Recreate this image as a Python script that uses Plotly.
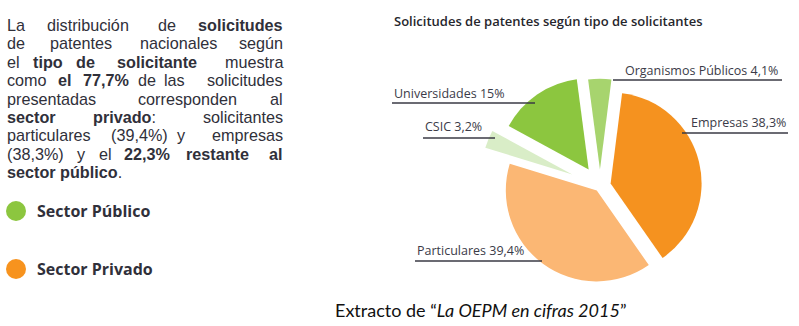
import plotly.graph_objects as go

W, H = 799, 326

# Patent applications by applicant type (%)
categories = ["Organismos Públicos", "Empresas", "Particulares", "CSIC", "Universidades"]
shares = [4.1, 38.3, 39.4, 3.2, 15.0]
public_group = ["Organismos Públicos", "CSIC", "Universidades"]
private_group = ["Empresas", "Particulares"]
sector_names = ["Sector Público", "Sector Privado"]

# styling
slice_colors = ["#A7D46E", "#F5921F", "#FBB774", "#D9EDC7", "#8CC63F"]
slice_pull = [0.18, 0.12, 0.06, 0.33, 0.22]
sector_colors = ["#8CC63F", "#F7931E"]
TEXT = "#30303a"
LABEL = "#3b3b48"


def es(v):
    s = f"{v:.1f}"
    if s.endswith(".0"):
        s = s[:-2]
    return s.replace(".", ",")


def px(x):
    return x / W


def py(y):
    return 1 - y / H


share_of = dict(zip(categories, shares))
private_total = sum(share_of[c] for c in private_group)
public_total = sum(share_of[c] for c in public_group)

fig = go.Figure()

# pie occupies a square box centred on (600, 186) px
cx, cy, half = 600, 186, 121
fig.add_trace(go.Pie(
    labels=categories,
    values=shares,
    sort=False,
    direction="clockwise",
    rotation=-7.5,
    pull=slice_pull,
    marker=dict(colors=slice_colors, line=dict(width=0)),
    textinfo="none",
    hoverinfo="label+percent",
    showlegend=False,
    domain=dict(x=[px(cx - half), px(cx + half)], y=[py(cy + half), py(cy - half)]),
))

annotations = []
shapes = []

# chart title
annotations.append(dict(
    x=px(392), y=py(21), xref="paper", yref="paper", xanchor="left", yanchor="middle",
    text="Solicitudes de patentes según tipo de solicitantes", showarrow=False,
    font=dict(family="Open Sans", size=13, color="#26262c", weight=600),
))

# slice labels with underline leaders: (text x, text y, anchor, line x0, line x1, line y)
label_place = {
    "Organismos Públicos": (780, 70, "right", 613, 782, 80),
    "Empresas": (788, 122, "right", 682, 788, 133),
    "Particulares": (415, 250, "left", 415, 542, 261),
    "CSIC": (423, 127, "left", 423, 495, 138),
    "Universidades": (392, 93, "left", 392, 535, 103),
}
for cat, val in zip(categories, shares):
    tx, ty, anc, lx0, lx1, ly = label_place[cat]
    annotations.append(dict(
        x=px(tx), y=py(ty), xref="paper", yref="paper", xanchor=anc, yanchor="middle",
        text=f"{cat} {es(val)}%", showarrow=False,
        font=dict(family="Open Sans", size=12.5, color=LABEL),
    ))
    shapes.append(dict(type="line", xref="paper", yref="paper",
                       x0=px(lx0), x1=px(lx1), y0=py(ly), y1=py(ly),
                       line=dict(color="#3a3a44", width=1.6)))

# justified paragraph: first word flush left, last word flush right,
# inner words centred on their slot
LEFT, RIGHT, TOP, LEAD = 7, 283, 25, 18.4
para = [
    [("La", None), ("distribución", 88), ("de", 167), ("<b>solicitudes</b>", None)],
    [("de", None), ("patentes", 81), ("nacionales", 178.5), ("según", None)],
    [("el", None), ("<b>tipo</b>", 48), ("<b>de</b>", 85), ("<b>solicitante</b>", 157), ("muestra", None)],
    [("como", None), ("<b>el</b>", 65), (f"<b>{es(private_total)}%</b>", 106), ("de", 146.5), ("las", 174),
     ("solicitudes", None)],
    [("presentadas", None), ("corresponden", 187.5), ("al", None)],
    [("<b>sector</b>", None), ("<b>privado</b>:", 124.5), ("solicitantes", None)],
    [("particulares", None), (f"({es(share_of['Particulares'])}%)", 139.5), ("y", 181), ("empresas", None)],
    [(f"({es(share_of['Empresas'])}%)", None), ("y", 81.5), ("el", 105), (f"<b>{es(public_total)}%</b>", 146.5),
     ("<b>restante</b>", 217), ("<b>al</b>", None)],
    [("<b>sector público</b>.", None)],
]
for i, words in enumerate(para):
    ly = TOP + i * LEAD
    n = len(words)
    for j, (word, wx) in enumerate(words):
        if j == 0:
            x, anc = LEFT, "left"
        elif j == n - 1:
            x, anc = RIGHT, "right"
        else:
            x, anc = wx, "center"
        annotations.append(dict(
            x=px(x), y=py(ly), xref="paper", yref="paper",
            xanchor=anc, yanchor="middle",
            text=word, showarrow=False, borderpad=0, borderwidth=0,
            font=dict(family="Liberation Sans", size=16.2, color=TEXT),
        ))

# sector key
for name, col, ky in zip(sector_names, sector_colors, [211, 269]):
    r = 10
    shapes.append(dict(type="circle", xref="paper", yref="paper",
                       x0=px(16 - r), x1=px(16 + r), y0=py(ky + r), y1=py(ky - r),
                       fillcolor=col, line=dict(width=0)))
    annotations.append(dict(
        x=px(35), y=py(ky), xref="paper", yref="paper", xanchor="left", yanchor="middle",
        text=f"<b>{name}</b>", showarrow=False,
        font=dict(family="Open Sans", size=16, color=TEXT),
    ))

# source caption
annotations.append(dict(
    x=px(333), y=py(310), xref="paper", yref="paper", xanchor="left", yanchor="middle",
    text="Extracto de “<i>La OEPM en cifras 2015</i>”", showarrow=False,
    font=dict(family="Lato", size=18, color="#111111"),
))

fig.update_layout(
    width=W, height=H,
    margin=dict(l=0, r=0, t=0, b=0),
    paper_bgcolor="white", plot_bgcolor="white",
    annotations=annotations, shapes=shapes,
    xaxis=dict(visible=False), yaxis=dict(visible=False),
)

fig.write_html("out.html")
